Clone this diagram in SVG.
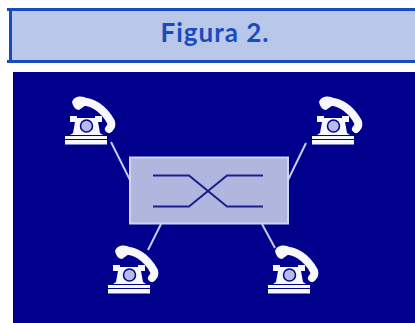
<svg xmlns="http://www.w3.org/2000/svg" width="415" height="323" viewBox="0 0 415 323">
<style>
.w{fill:#f8f8ff}
.ws{fill:none;stroke:#f8f8ff;stroke-linecap:round;stroke-linejoin:round}
.c{stroke:#c5cdf0;stroke-width:2;fill:none}
.x{stroke:#1a1f8c;stroke-width:2;fill:none}
</style>
<defs>
<g id="phone">
<path class="ws" stroke-width="8" d="M14 -41C27 -43 39 -34 46 -21C47 -18 46 -16 44 -14"/>
<path class="w" d="M7 -41C9 -47 18 -48 22 -44L21 -38L14 -33C10 -33 8 -37 7 -41Z"/>
<path class="w" d="M5 -27H12V-25H30V-27H37V-21H33L35 -10L38 -8H5L8 -10L10 -21H5Z"/>
<circle cx="21.500" cy="-17" r="6" fill="#b4bbea" stroke="#00008c" stroke-width="1.500"/>
<rect class="w" x="0" y="-7" width="42" height="3"/>
<rect class="w" x="0" y="-3" width="42" height="4.500"/>
</g>
</defs>
<rect width="415" height="323" fill="#fff"/>
<g id="header">
<rect x="9" y="9" width="406" height="52" fill="#b9c7e9"/>
<path d="M7 9.500H415M7 61.500H415M10.500 9V62" fill="none" stroke="#1a4bbd" stroke-width="3"/>
<text x="215" y="42" text-anchor="middle" font-family="Lato, 'Liberation Sans', sans-serif" font-size="26" font-weight="700" letter-spacing="1" fill="#1a4bbd">Figura 2.</text>
</g>
<rect id="background" x="13" y="72" width="402" height="251" fill="#00008c"/>
<g id="connectors">
<path class="c" d="M111 142L130 180"/>
<path class="c" d="M306 143L288 180"/>
<path class="c" d="M161 224L148 250"/>
<path class="c" d="M262 224L275 248"/>
</g>
<g id="switch">
<rect x="130" y="157.500" width="158" height="66" fill="#b0b6de" stroke="#d0d5f3" stroke-width="2"/>
<path class="x" d="M153 175.500H189L227 206.500H263"/>
<path class="x" d="M153 206.500H189L227 175.500H263"/>
</g>
<g id="phone-1"><use href="#phone" x="65" y="143"/></g>
<g id="phone-2"><use href="#phone" x="312" y="143"/></g>
<g id="phone-3"><use href="#phone" x="108" y="292"/></g>
<g id="phone-4"><use href="#phone" x="268" y="292"/></g>
</svg>
